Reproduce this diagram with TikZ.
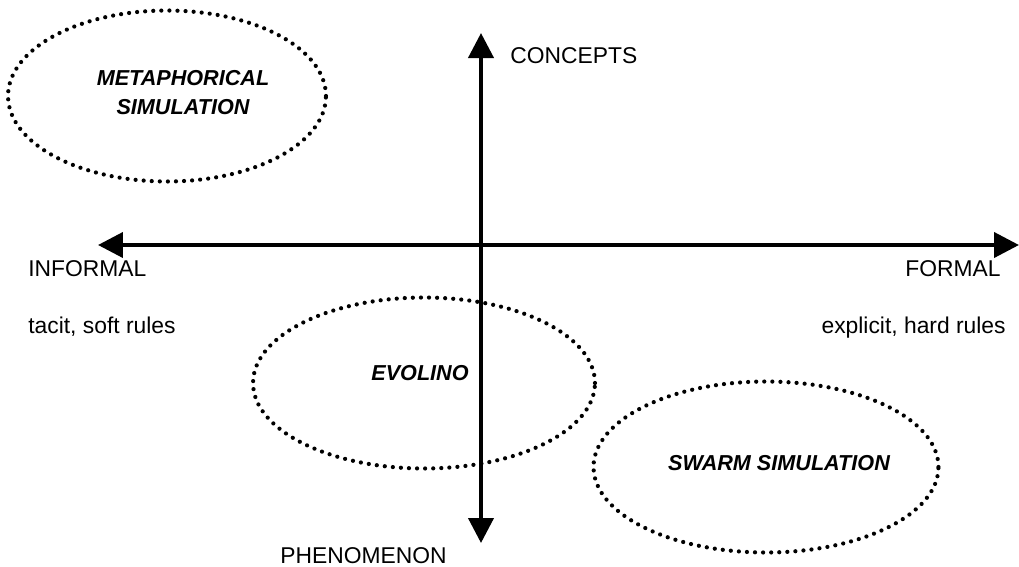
\documentclass[tikz,border=0pt]{standalone}
\usepackage{fontspec}
\setmainfont{Liberation Sans}
\usetikzlibrary{shapes.geometric, arrows.meta}

\begin{document}
\begin{tikzpicture}[x=0.02cm, y=-0.02cm]
  \tikzstyle{axis}=[draw, line width=2.3pt, {Triangle[length=0.5cm, width=0.5cm]}-{Triangle[length=0.5cm, width=0.5cm]}]
  \tikzstyle{label}=[inner sep=0pt, font=\fontsize{13}{15}\selectfont]
  \tikzstyle{cloud}=[ellipse, draw, line width=2.4pt, line cap=round, dash pattern=on 0pt off 4.6pt, minimum height=3.42cm, inner sep=0pt]
  \tikzstyle{tag}=[inner sep=0pt, align=center, font=\fontsize{12.3}{16.5}\selectfont\bfseries\itshape]

  \useasboundingbox (0,0) rectangle (1019,566);

  % axes
  \coordinate (west) at (98,245);
  \coordinate (east) at (1019,245);
  \coordinate (north) at (481,33);
  \coordinate (south) at (481,543);
  \draw [axis] (west) -- (east);
  \draw [axis] (south) -- (north);

  % axis labels
  \node (concepts) [label, anchor=base west] at (510,63) {CONCEPTS};
  \node (phenomenon) [label, anchor=base west] at (280,563) {PHENOMENON};
  \node (informal) [label, anchor=base west] at (28,276) {INFORMAL};
  \node (formal) [label, anchor=base east] at (1001,276) {FORMAL};
  \node (tacit) [label, anchor=base west] at (28,333) {tacit, soft rules};
  \node (explicit) [label, anchor=base east] at (1006,333) {explicit, hard rules};

  % regions
  \node (meta) [cloud, minimum width=6.36cm] at (167,96) {};
  \node (evolino) [cloud, minimum width=6.84cm] at (424,383) {};
  \node (swarm) [cloud, minimum width=6.9cm] at (766,467) {};

  \node (metatext) [tag, xshift=0.32cm, yshift=0.06cm] at (meta) {METAPHORICAL\\SIMULATION};
  \node (evolinotext) [tag, xshift=-0.08cm, yshift=0.2cm] at (evolino) {EVOLINO};
  \node (swarmtext) [tag, xshift=0.26cm, yshift=0.08cm] at (swarm) {SWARM SIMULATION};

\end{tikzpicture}
\end{document}
